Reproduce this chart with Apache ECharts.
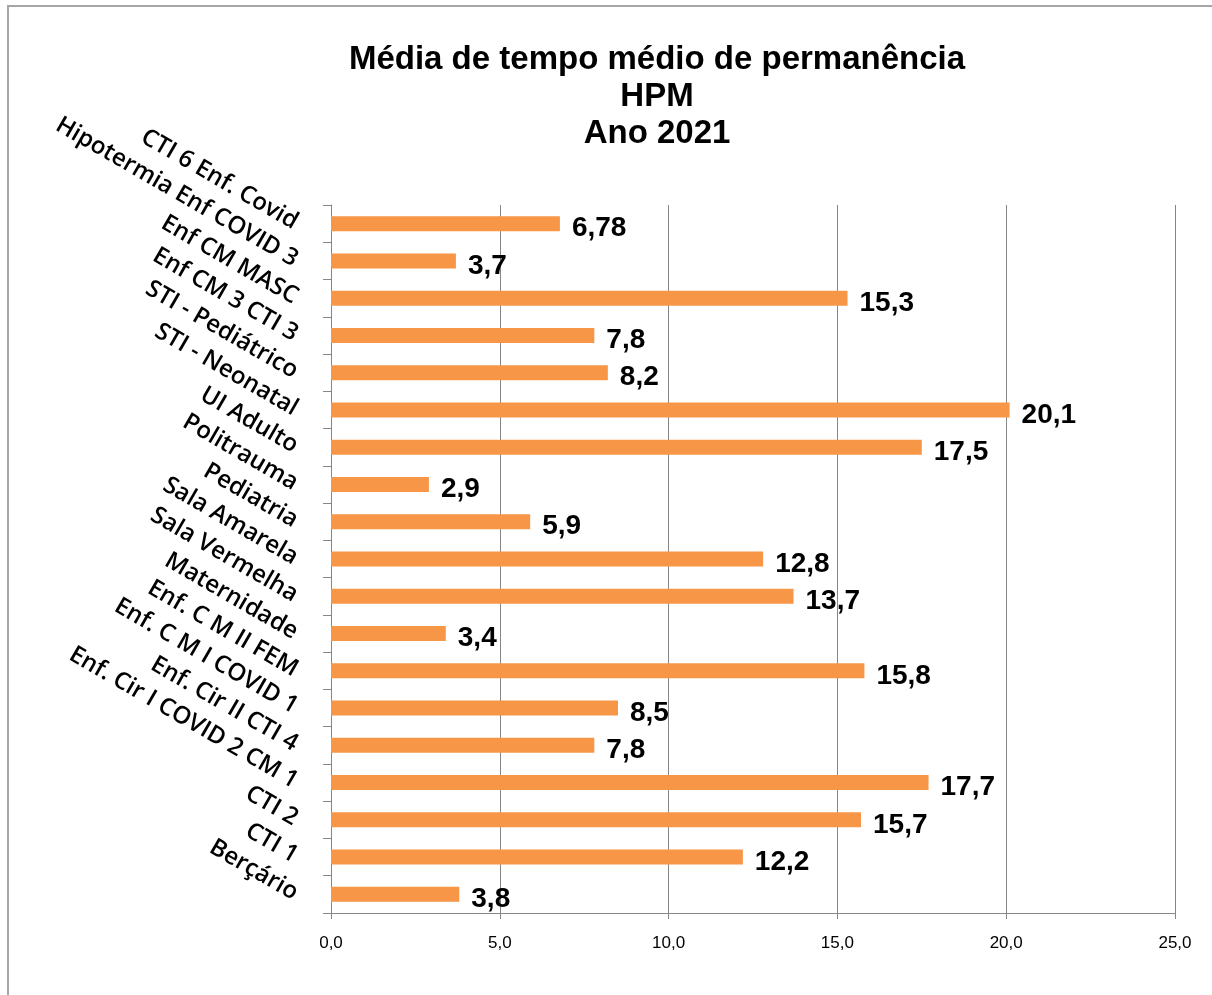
<!DOCTYPE html>
<html>
<head>
<meta charset="utf-8">
<script src="https://cdn.jsdelivr.net/npm/echarts@6/dist/echarts.min.js"></script>
<style>
  html, body { margin: 0; padding: 0; background: #fff; overflow: hidden; }
  #frame {
    position: absolute; left: 7px; top: 5px; width: 1220px; height: 1000px;
    border-left: 2px solid #a6a6a6; border-top: 2px solid #a6a6a6;
  }
  #main { position: absolute; left: 0; top: 0; width: 1212px; height: 995px; }
</style>
</head>
<body>
<div id="frame"></div>
<div id="main"></div>
<script>
// categories top to bottom as in the picture
var categories = [
  'CTI 6 Enf. Covid', 'Hipotermia Enf COVID 3', 'Enf CM MASC', 'Enf CM 3 CTI 3',
  'STI - Pediátrico', 'STI - Neonatal', 'UI Adulto', 'Politrauma', 'Pediatria',
  'Sala Amarela', 'Sala Vermelha', 'Maternidade', 'Enf. C M II FEM',
  'Enf. C M I COVID 1', 'Enf. Cir II CTI 4', 'Enf. Cir I COVID 2 CM 1',
  'CTI 2', 'CTI 1', 'Berçário'
];
var values = [6.78, 3.7, 15.3, 7.8, 8.2, 20.1, 17.5, 2.9, 5.9, 12.8, 13.7, 3.4, 15.8, 8.5, 7.8, 17.7, 15.7, 12.2, 3.8];
var titleLines = ['Média de tempo médio de permanência', 'HPM', 'Ano 2021'];

var chart = echarts.init(document.getElementById('main'));

function comma(v, d) {
  return v.toFixed(d).replace('.', ',');
}

chart.setOption({
  animation: false,
  title: {
    text: titleLines.join('\n'),
    left: 652,
    textAlign: 'center',
    top: 36,
    textStyle: {
      fontFamily: 'Liberation Sans, Arial',
      fontWeight: 'bold',
      fontSize: 33,
      lineHeight: 37,
      color: '#000'
    }
  },
  grid: {
    left: 331,
    right: 37,
    top: 205,
    bottom: 82
  },
  xAxis: {
    type: 'value',
    min: 0,
    max: 25,
    interval: 5,
    axisLine: { show: true, lineStyle: { color: '#868686', width: 1 } },
    axisTick: { show: true, length: 6, lineStyle: { color: '#868686' } },
    splitLine: { show: true, lineStyle: { color: '#868686', width: 1 } },
    axisLabel: {
      margin: 22,
      fontFamily: 'Liberation Sans Narrow, Arial Narrow, Liberation Sans',
      fontSize: 17,
      color: '#000',
      formatter: function (v) { return comma(v, 1); }
    }
  },
  yAxis: {
    type: 'category',
    inverse: true,
    data: categories,
    axisLine: { show: true, lineStyle: { color: '#868686', width: 1 } },
    axisTick: { show: true, length: 8, lineStyle: { color: '#868686' } },
    axisLabel: {
      rotate: -30,
      margin: 35,
      fontFamily: 'Open Sans, Noto Sans',
      fontWeight: 600,
      fontSize: 24,
      color: '#000'
    }
  },
  series: [{
    type: 'bar',
    data: values,
    barWidth: 15,
    itemStyle: { color: '#F79646' },
    label: {
      show: true,
      position: 'right',
      distance: 12,
      fontFamily: 'Liberation Sans, Arial',
      fontWeight: 'bold',
      fontSize: 28,
      color: '#000',
      offset: [0, 5],
      formatter: function (p) {
        return p.value === 6.78 ? '6,78' : comma(p.value, 1);
      }
    }
  }]
});
</script>
</body>
</html>
